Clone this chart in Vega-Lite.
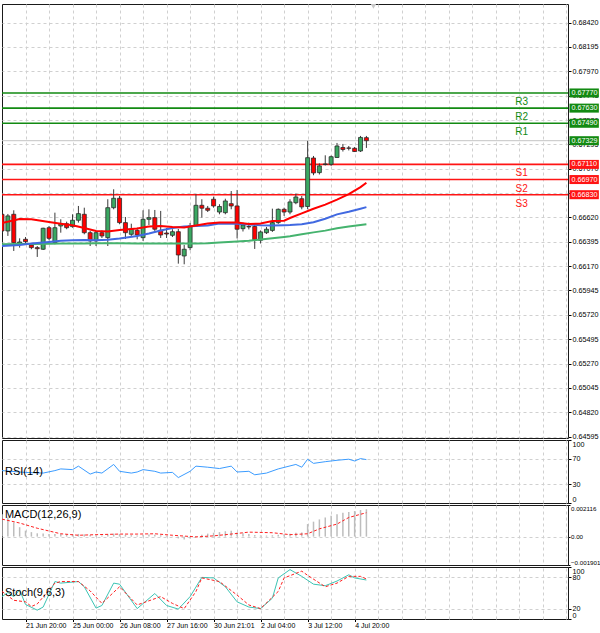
{
  "$schema": "https://vega.github.io/schema/vega-lite/v6.json",
  "padding": {"left": 0, "top": 3, "right": 0, "bottom": 0},
  "background": "white",
  "spacing": 2,
  "bounds": "flush",
  "config": {
    "view": {"stroke": "#1a1a1a", "strokeWidth": 1},
    "axis": {"labelFont": "Liberation Sans", "labelFontSize": 7.2, "labelColor": "#000000", "tickColor": "#000000", "gridColor": "#d0d0d0", "gridDash": [3, 3], "title": null, "domain": false, "tickSize": 3, "labelPadding": 1, "labelOverlap": false},
    "text": {"font": "Liberation Sans"}
  },
  "datasets": {
    "candles": [
      {"i":0,"o":0.66649,"h":0.66670,"l":0.66476,"c":0.66495},
      {"i":1,"o":0.66495,"h":0.66652,"l":0.66449,"c":0.66634},
      {"i":2,"o":0.66649,"h":0.66686,"l":0.66310,"c":0.66387},
      {"i":3,"o":0.66372,"h":0.66427,"l":0.66341,"c":0.66393},
      {"i":4,"o":0.66418,"h":0.66439,"l":0.66384,"c":0.66396},
      {"i":5,"o":0.66366,"h":0.66378,"l":0.66326,"c":0.66341},
      {"i":6,"o":0.66341,"h":0.66356,"l":0.66255,"c":0.66331},
      {"i":7,"o":0.66326,"h":0.66525,"l":0.66319,"c":0.66520},
      {"i":8,"o":0.66525,"h":0.66541,"l":0.66409,"c":0.66427},
      {"i":9,"o":0.66387,"h":0.66664,"l":0.66372,"c":0.66525},
      {"i":10,"o":0.66541,"h":0.66603,"l":0.66479,"c":0.66562},
      {"i":11,"o":0.66562,"h":0.66581,"l":0.66511,"c":0.66525},
      {"i":12,"o":0.66535,"h":0.66649,"l":0.66525,"c":0.66594},
      {"i":13,"o":0.66594,"h":0.66726,"l":0.66572,"c":0.66655},
      {"i":14,"o":0.66649,"h":0.66710,"l":0.66464,"c":0.66479},
      {"i":15,"o":0.66479,"h":0.66495,"l":0.66356,"c":0.66403},
      {"i":16,"o":0.66403,"h":0.66495,"l":0.66356,"c":0.66479},
      {"i":17,"o":0.66479,"h":0.66500,"l":0.66430,"c":0.66449},
      {"i":18,"o":0.66433,"h":0.66788,"l":0.66356,"c":0.66710},
      {"i":19,"o":0.66710,"h":0.66880,"l":0.66695,"c":0.66797},
      {"i":20,"o":0.66797,"h":0.66818,"l":0.66557,"c":0.66572},
      {"i":21,"o":0.66572,"h":0.66624,"l":0.66421,"c":0.66479},
      {"i":22,"o":0.66464,"h":0.66562,"l":0.66449,"c":0.66511},
      {"i":23,"o":0.66501,"h":0.66525,"l":0.66418,"c":0.66458},
      {"i":24,"o":0.66433,"h":0.66686,"l":0.66403,"c":0.66603},
      {"i":25,"o":0.66603,"h":0.66695,"l":0.66550,"c":0.66618},
      {"i":26,"o":0.66618,"h":0.66689,"l":0.66495,"c":0.66511},
      {"i":27,"o":0.66501,"h":0.66680,"l":0.66430,"c":0.66458},
      {"i":28,"o":0.66476,"h":0.66523,"l":0.66430,"c":0.66467},
      {"i":29,"o":0.66455,"h":0.66511,"l":0.66439,"c":0.66488},
      {"i":30,"o":0.66488,"h":0.66513,"l":0.66193,"c":0.66273},
      {"i":31,"o":0.66264,"h":0.66366,"l":0.66187,"c":0.66326},
      {"i":32,"o":0.66341,"h":0.66569,"l":0.66317,"c":0.66541},
      {"i":33,"o":0.66541,"h":0.66834,"l":0.66532,"c":0.66732},
      {"i":34,"o":0.66732,"h":0.66788,"l":0.66618,"c":0.66705},
      {"i":35,"o":0.66705,"h":0.66726,"l":0.66670,"c":0.66686},
      {"i":36,"o":0.66788,"h":0.66812,"l":0.66710,"c":0.66726},
      {"i":37,"o":0.66670,"h":0.66742,"l":0.66649,"c":0.66721},
      {"i":38,"o":0.66664,"h":0.66793,"l":0.66649,"c":0.66772},
      {"i":39,"o":0.66747,"h":0.66864,"l":0.66695,"c":0.66726},
      {"i":40,"o":0.66726,"h":0.66874,"l":0.66426,"c":0.66511},
      {"i":41,"o":0.66516,"h":0.66572,"l":0.66490,"c":0.66550},
      {"i":42,"o":0.66536,"h":0.66572,"l":0.66509,"c":0.66532},
      {"i":43,"o":0.66536,"h":0.66557,"l":0.66329,"c":0.66414},
      {"i":44,"o":0.66409,"h":0.66500,"l":0.66379,"c":0.66486},
      {"i":45,"o":0.66479,"h":0.66532,"l":0.66467,"c":0.66511},
      {"i":46,"o":0.66500,"h":0.66701,"l":0.66486,"c":0.66572},
      {"i":47,"o":0.66572,"h":0.66703,"l":0.66560,"c":0.66695},
      {"i":48,"o":0.66695,"h":0.66710,"l":0.66634,"c":0.66670},
      {"i":49,"o":0.66670,"h":0.66788,"l":0.66649,"c":0.66763},
      {"i":50,"o":0.66756,"h":0.66840,"l":0.66742,"c":0.66809},
      {"i":51,"o":0.66793,"h":0.66818,"l":0.66695,"c":0.66717},
      {"i":52,"o":0.66721,"h":0.67327,"l":0.66695,"c":0.67172},
      {"i":53,"o":0.67169,"h":0.67188,"l":0.67010,"c":0.67031},
      {"i":54,"o":0.67034,"h":0.67119,"l":0.67017,"c":0.67096},
      {"i":55,"o":0.67109,"h":0.67194,"l":0.67100,"c":0.67114},
      {"i":56,"o":0.67111,"h":0.67192,"l":0.67096,"c":0.67181},
      {"i":57,"o":0.67174,"h":0.67308,"l":0.67169,"c":0.67280},
      {"i":58,"o":0.67266,"h":0.67299,"l":0.67229,"c":0.67248},
      {"i":59,"o":0.67262,"h":0.67280,"l":0.67239,"c":0.67259},
      {"i":60,"o":0.67259,"h":0.67271,"l":0.67225,"c":0.67229},
      {"i":61,"o":0.67234,"h":0.67373,"l":0.67225,"c":0.67359},
      {"i":62,"o":0.67357,"h":0.67373,"l":0.67262,"c":0.67329}
    ],
    "ma": [
      {"i":0,"fast":0.66569,"mid":0.66356,"slow":0.66372},
      {"i":3,"fast":0.66606,"mid":0.66366,"slow":0.66374},
      {"i":5,"fast":0.66603,"mid":0.66379,"slow":0.66375},
      {"i":8,"fast":0.66578,"mid":0.66393,"slow":0.66377},
      {"i":10,"fast":0.66562,"mid":0.66404,"slow":0.66378},
      {"i":12,"fast":0.66548,"mid":0.66410,"slow":0.66379},
      {"i":14,"fast":0.66523,"mid":0.66412,"slow":0.66380},
      {"i":16,"fast":0.66495,"mid":0.66409,"slow":0.66381},
      {"i":18,"fast":0.66490,"mid":0.66414,"slow":0.66381},
      {"i":20,"fast":0.66504,"mid":0.66426,"slow":0.66381},
      {"i":23,"fast":0.66518,"mid":0.66449,"slow":0.66380},
      {"i":25,"fast":0.66536,"mid":0.66472,"slow":0.66379},
      {"i":27,"fast":0.66541,"mid":0.66500,"slow":0.66378},
      {"i":29,"fast":0.66532,"mid":0.66523,"slow":0.66378},
      {"i":31,"fast":0.66527,"mid":0.66536,"slow":0.66378},
      {"i":33,"fast":0.66546,"mid":0.66541,"slow":0.66379},
      {"i":35,"fast":0.66564,"mid":0.66546,"slow":0.66382},
      {"i":37,"fast":0.66572,"mid":0.66564,"slow":0.66389},
      {"i":40,"fast":0.66572,"mid":0.66562,"slow":0.66398},
      {"i":42,"fast":0.66560,"mid":0.66555,"slow":0.66405},
      {"i":44,"fast":0.66564,"mid":0.66548,"slow":0.66415},
      {"i":46,"fast":0.66587,"mid":0.66546,"slow":0.66428},
      {"i":48,"fast":0.66590,"mid":0.66548,"slow":0.66440},
      {"i":49,"fast":0.66615,"mid":0.66550,"slow":0.66447},
      {"i":51,"fast":0.66658,"mid":0.66557,"slow":0.66465},
      {"i":53,"fast":0.66700,"mid":0.66575,"slow":0.66482},
      {"i":55,"fast":0.66738,"mid":0.66608,"slow":0.66498},
      {"i":57,"fast":0.66785,"mid":0.66648,"slow":0.66520},
      {"i":59,"fast":0.66835,"mid":0.66672,"slow":0.66536},
      {"i":61,"fast":0.66900,"mid":0.66700,"slow":0.66550},
      {"i":62,"fast":0.66940,"mid":0.66715,"slow":0.66557}
    ],
    "levels": [
      {"name":"R3","kind":"R","v":0.67770},
      {"name":"R2","kind":"R","v":0.67630},
      {"name":"R1","kind":"R","v":0.67490},
      {"name":"S1","kind":"S","v":0.67110},
      {"name":"S2","kind":"S","v":0.66970},
      {"name":"S3","kind":"S","v":0.66830}
    ],
    "tags": [
      {"kind":"R","v":0.67770},
      {"kind":"R","v":0.67630},
      {"kind":"R","v":0.67490},
      {"kind":"P","v":0.67329},
      {"kind":"S","v":0.67110},
      {"kind":"S","v":0.66970},
      {"kind":"S","v":0.66830}
    ],
    "rsi": [
      {"i":0,"v":51.4},{"i":4,"v":48.5},{"i":7,"v":47.5},{"i":9,"v":51.4},{"i":10,"v":54.1},
      {"i":12,"v":53},{"i":13,"v":58.5},{"i":15,"v":45.9},{"i":16,"v":49.2},{"i":17,"v":47.5},
      {"i":19,"v":61.2},{"i":20,"v":50.3},{"i":22,"v":47.5},{"i":23,"v":49.2},{"i":24,"v":53},
      {"i":26,"v":50.3},{"i":27,"v":47.5},{"i":29,"v":48.6},{"i":30,"v":40.4},{"i":32,"v":50.3},
      {"i":33,"v":58.5},{"i":35,"v":56.8},{"i":37,"v":54.7},{"i":39,"v":58.5},{"i":40,"v":49.2},
      {"i":42,"v":50.3},{"i":43,"v":44.8},{"i":45,"v":47.5},{"i":47,"v":54.1},{"i":50,"v":61.2},
      {"i":51,"v":56.8},{"i":52,"v":69.5},{"i":53,"v":62.9},{"i":55,"v":65.6},{"i":57,"v":67.8},
      {"i":59,"v":69.5},{"i":60,"v":66.7},{"i":61,"v":70.5},{"i":62,"v":68.9}
    ],
    "macd": [
      {"i":0,"m":0.00150},{"i":1,"m":0.00128},{"i":2,"m":0.00095},{"i":3,"m":0.00063},{"i":4,"m":0.00040},
      {"i":5,"m":0.00030},{"i":6,"m":0.00022},{"i":7,"m":0.00020},{"i":8,"m":0.00018},{"i":9,"m":0.00017},
      {"i":10,"m":0.00018},{"i":11,"m":0.00017},{"i":12,"m":0.00016},{"i":13,"m":0.00018},{"i":14,"m":0.00015},
      {"i":15,"m":0.00010},{"i":16,"m":0.00009},{"i":17,"m":0.00008},{"i":18,"m":0.00014},{"i":19,"m":0.00020},
      {"i":20,"m":0.00018},{"i":21,"m":0.00012},{"i":22,"m":0.00010},{"i":23,"m":0.00008},{"i":24,"m":0.00012},
      {"i":25,"m":0.00014},{"i":26,"m":0.00012},{"i":27,"m":0.00009},{"i":28,"m":0.00006},{"i":29,"m":0.00002},
      {"i":30,"m":-0.00012},{"i":31,"m":-0.00020},{"i":32,"m":-0.00012},{"i":33,"m":0.00004},{"i":34,"m":0.00012},
      {"i":35,"m":0.00020},{"i":36,"m":0.00026},{"i":37,"m":0.00030},{"i":38,"m":0.00036},{"i":39,"m":0.00040},
      {"i":40,"m":0.00028},{"i":41,"m":0.00022},{"i":42,"m":0.00018},{"i":43,"m":0.00010},{"i":44,"m":0.00008},
      {"i":45,"m":0.00007},{"i":46,"m":0.00009},{"i":47,"m":0.00013},{"i":48,"m":0.00015},{"i":49,"m":0.00019},
      {"i":50,"m":0.00025},{"i":51,"m":0.00028},{"i":52,"m":0.00084},{"i":53,"m":0.00100},{"i":54,"m":0.00115},
      {"i":55,"m":0.00128},{"i":56,"m":0.00140},{"i":57,"m":0.00149},{"i":58,"m":0.00160},{"i":59,"m":0.00165},
      {"i":60,"m":0.00171},{"i":61,"m":0.00178},{"i":62,"m":0.00183}
    ],
    "signal": [
      {"i":0,"s":0.00117},{"i":3,"s":0.00091},{"i":6,"s":0.00056},{"i":10,"s":0.00019},{"i":13,"s":0.00009},
      {"i":16,"s":0.00013},{"i":20,"s":0.00017},{"i":23,"s":0.00017},{"i":26,"s":0.00019},{"i":29,"s":0.00009},
      {"i":33,"s":-0.00002},{"i":36,"s":0.00005},{"i":39,"s":0.00017},{"i":42,"s":0.00030},{"i":46,"s":0.00026},
      {"i":49,"s":0.00013},{"i":52,"s":0.00019},{"i":54,"s":0.00052},{"i":57,"s":0.00084},{"i":59,"s":0.00128},
      {"i":62,"s":0.00160}
    ],
    "stochk": [
      {"i":0,"k":43},{"i":1,"k":51},{"i":2,"k":43},{"i":3,"k":56},{"i":4,"k":28},{"i":6,"k":17},
      {"i":7,"k":23},{"i":9,"k":72},{"i":10,"k":69},{"i":13,"k":72},{"i":14,"k":62},{"i":16,"k":21},
      {"i":17,"k":26},{"i":19,"k":69},{"i":20,"k":67},{"i":23,"k":20},{"i":26,"k":49},{"i":28,"k":26},
      {"i":30,"k":19},{"i":32,"k":43},{"i":34,"k":80},{"i":36,"k":79},{"i":38,"k":62},{"i":40,"k":33},
      {"i":42,"k":23},{"i":44,"k":20},{"i":46,"k":40},{"i":47,"k":79},{"i":49,"k":95},{"i":51,"k":82},
      {"i":53,"k":67},{"i":55,"k":64},{"i":57,"k":73},{"i":59,"k":85},{"i":60,"k":79},{"i":62,"k":75}
    ],
    "stochd": [
      {"i":0,"d":53},{"i":2,"d":36},{"i":4,"d":33},{"i":5,"d":24},{"i":6,"d":29},{"i":9,"d":69},
      {"i":10,"d":72},{"i":13,"d":72},{"i":15,"d":54},{"i":17,"d":30},{"i":20,"d":62},{"i":23,"d":27},
      {"i":27,"d":43},{"i":29,"d":30},{"i":31,"d":20},{"i":33,"d":53},{"i":34,"d":79},{"i":37,"d":72},
      {"i":40,"d":46},{"i":42,"d":27},{"i":44,"d":20},{"i":47,"d":53},{"i":48,"d":79},{"i":51,"d":92},
      {"i":52,"d":84},{"i":55,"d":62},{"i":57,"d":69},{"i":59,"d":82},{"i":61,"d":82},{"i":62,"d":77}
    ],
    "titles": [
      {"panel":"rsi","t":"RSI(14)"},
      {"panel":"macd","t":"MACD(12,26,9)"},
      {"panel":"stoch","t":"Stoch(9,6,3)"}
    ]
  },
  "vconcat": [
    {
      "width": 566,
      "height": 434,
      "layer": [
        {
          "data": {"values": [{"v": 0.67329}]},
          "mark": {"type": "rule", "color": "#c4c4c4", "strokeWidth": 1},
          "encoding": {
            "x": {"datum": 0, "type": "quantitative", "scale": {"domain": [0, 96.3], "nice": false, "zero": false, "padding": 0},
                  "axis": {"values": [0,4,8,12,16,20,24,28,32,36,40,44,48,52,56,60,64,68,72,76,80,84,88,92,96], "tickCount": 200, "labels": false, "ticks": false, "grid": true,
                           "gridOpacity": {"condition": {"test": "datum.value == 0", "value": 0}, "value": 1}}},
            "x2": {"datum": 96.3},
            "y": {"field": "v", "type": "quantitative", "scale": {"domain": [0.64582, 0.68592], "nice": false, "zero": false, "padding": 0},
                  "axis": {"orient": "right", "values": [0.68420,0.68195,0.67970,0.67745,0.67520,0.67295,0.67070,0.66845,0.66620,0.66395,0.66170,0.65945,0.65720,0.65495,0.65270,0.65045,0.64820,0.64595], "tickCount": 200, "format": ".5f", "grid": true, "labelOverlap": false}}
          }
        },
        {
          "data": {"name": "levels"},
          "mark": {"type": "rule", "strokeWidth": 1.6},
          "encoding": {
            "y": {"field": "v", "type": "quantitative"},
            "color": {"field": "kind", "type": "nominal", "scale": {"domain": ["R", "S"], "range": ["#128a12", "#ff1414"]}, "legend": null}
          }
        },
        {
          "data": {"name": "candles"},
          "mark": {"type": "rule", "color": "#3a3a3a", "strokeWidth": 1, "clip": true},
          "encoding": {
            "x": {"field": "i", "type": "quantitative"},
            "y": {"field": "l", "type": "quantitative"},
            "y2": {"field": "h"}
          }
        },
        {
          "data": {"name": "candles"},
          "mark": {"type": "bar", "size": 4, "stroke": "#2b2b2b", "strokeWidth": 0.8, "clip": true},
          "encoding": {
            "x": {"field": "i", "type": "quantitative"},
            "y": {"field": "o", "type": "quantitative"},
            "y2": {"field": "c"},
            "color": {"condition": {"test": "datum.c >= datum.o", "value": "#3aa862"}, "value": "#ff0000"}
          }
        },
        {
          "data": {"name": "ma"},
          "mark": {"type": "line", "color": "#45b36e", "strokeWidth": 2, "clip": true},
          "encoding": {"x": {"field": "i", "type": "quantitative"}, "y": {"field": "slow", "type": "quantitative"}}
        },
        {
          "data": {"name": "ma"},
          "mark": {"type": "line", "color": "#4169e1", "strokeWidth": 2, "clip": true},
          "encoding": {"x": {"field": "i", "type": "quantitative"}, "y": {"field": "mid", "type": "quantitative"}}
        },
        {
          "data": {"name": "ma"},
          "mark": {"type": "line", "color": "#ff0000", "strokeWidth": 2, "clip": true},
          "encoding": {"x": {"field": "i", "type": "quantitative"}, "y": {"field": "fast", "type": "quantitative"}}
        },
        {
          "data": {"name": "levels"},
          "mark": {"type": "text", "align": "center", "baseline": "top", "dy": 4, "fontSize": 10},
          "encoding": {
            "x": {"datum": 88.4},
            "y": {"field": "v", "type": "quantitative"},
            "text": {"field": "name"},
            "color": {"field": "kind", "type": "nominal", "scale": {"domain": ["R", "S"], "range": ["#4a9e4a", "#ff4646"]}, "legend": null}
          }
        },
        {
          "data": {"name": "tags"},
          "mark": {"type": "bar", "size": 9},
          "encoding": {
            "x": {"datum": 96.55},
            "x2": {"datum": 101.55},
            "y": {"field": "v", "type": "quantitative"},
            "color": {"field": "kind", "type": "nominal", "scale": {"domain": ["R", "S", "P"], "range": ["#0a820a", "#ff0000", "#000000"]}, "legend": null}
          }
        },
        {
          "data": {"name": "tags"},
          "mark": {"type": "text", "align": "left", "baseline": "middle", "fontSize": 7.2, "color": "#ffffff"},
          "encoding": {
            "x": {"datum": 96.9},
            "y": {"field": "v", "type": "quantitative"},
            "text": {"field": "v", "type": "quantitative", "format": ".5f"}
          }
        },
        {
          "data": {"values": [{"i": 63.2, "v": 0.68569}]},
          "mark": {"type": "point", "shape": "triangle-down", "size": 30, "filled": true, "color": "#c8c8c8", "opacity": 1},
          "encoding": {"x": {"field": "i", "type": "quantitative"}, "y": {"field": "v", "type": "quantitative"}}
        }
      ]
    },
    {
      "width": 566,
      "height": 63,
      "layer": [
        {
          "data": {"name": "rsi"},
          "mark": {"type": "line", "color": "#3b9cff", "strokeWidth": 1, "clip": true},
          "encoding": {
            "x": {"field": "i", "type": "quantitative", "scale": {"domain": [0, 96.3], "nice": false, "zero": false, "padding": 0},
                  "axis": {"values": [0,4,8,12,16,20,24,28,32,36,40,44,48,52,56,60,64,68,72,76,80,84,88,92,96], "tickCount": 200, "labels": false, "ticks": false, "grid": true,
                           "gridOpacity": {"condition": {"test": "datum.value == 0", "value": 0}, "value": 1}}},
            "y": {"field": "v", "type": "quantitative", "scale": {"domain": [0, 100], "nice": false, "padding": 0},
                  "axis": {"orient": "right", "values": [0, 30, 70, 100], "tickCount": 200, "format": "d", "labelFlush": true, "labelOverlap": false, "grid": true,
                           "gridOpacity": {"condition": {"test": "datum.value == 0 || datum.value == 100", "value": 0}, "value": 1}}}
          }
        },
        {
          "data": {"name": "titles"},
          "transform": [{"filter": "datum.panel == 'rsi'"}],
          "mark": {"type": "text", "align": "left", "baseline": "middle", "fontSize": 11, "color": "#000000"},
          "encoding": {"x": {"datum": 0.5}, "y": {"datum": 50}, "text": {"field": "t"}}
        }
      ]
    },
    {
      "width": 566,
      "height": 60,
      "layer": [
        {
          "data": {"name": "macd"},
          "mark": {"type": "bar", "size": 1.5, "color": "#bdbdbd", "clip": true},
          "encoding": {
            "x": {"field": "i", "type": "quantitative", "scale": {"domain": [0, 96.3], "nice": false, "zero": false, "padding": 0},
                  "axis": {"values": [0,4,8,12,16,20,24,28,32,36,40,44,48,52,56,60,64,68,72,76,80,84,88,92,96], "tickCount": 200, "labels": false, "ticks": false, "grid": true,
                           "gridOpacity": {"condition": {"test": "datum.value == 0", "value": 0}, "value": 1}}},
            "y": {"field": "m", "type": "quantitative", "scale": {"domain": [-0.001901, 0.002116], "nice": false, "zero": false, "padding": 0},
                  "axis": {"orient": "right", "values": [-0.001901, 0, 0.002116], "tickCount": 200, "labelExpr": "datum.value == 0 ? '0.00' : format(datum.value, '.6f')", "labelFlush": true, "labelOverlap": false, "labelFontSize": 6.2, "tickSize": 2, "labelPadding": 0.5, "grid": true,
                           "gridOpacity": {"condition": {"test": "datum.value != 0", "value": 0}, "value": 1}}},
            "y2": {"datum": 0}
          }
        },
        {
          "data": {"name": "signal"},
          "mark": {"type": "line", "color": "#ff2020", "strokeWidth": 1, "strokeDash": [3, 2], "clip": true},
          "encoding": {"x": {"field": "i", "type": "quantitative"}, "y": {"field": "s", "type": "quantitative"}}
        },
        {
          "data": {"name": "titles"},
          "transform": [{"filter": "datum.panel == 'macd'"}],
          "mark": {"type": "text", "align": "left", "baseline": "middle", "fontSize": 11, "color": "#000000"},
          "encoding": {"x": {"datum": 0.5}, "y": {"datum": 0.00145}, "text": {"field": "t"}}
        }
      ]
    },
    {
      "width": 566,
      "height": 52,
      "resolve": {"axis": {"x": "independent"}},
      "layer": [
        {
          "data": {"name": "stochk"},
          "mark": {"type": "line", "color": "#3cc4b4", "strokeWidth": 1, "clip": true},
          "encoding": {
            "x": {"field": "i", "type": "quantitative", "scale": {"domain": [0, 96.3], "nice": false, "zero": false, "padding": 0},
                  "axis": {"orient": "bottom", "values": [4, 12, 20, 28, 36, 44, 52, 60], "tickCount": 200, "grid": false, "labelAlign": "left", "labelFontSize": 7, "labelPadding": 0, "tickSize": 2.5, "labelFlush": false, "labelOverlap": false,
                           "labelExpr": "datum.value == 4 ? '21 Jun 20:00' : datum.value == 12 ? '25 Jun 00:00' : datum.value == 20 ? '26 Jun 08:00' : datum.value == 28 ? '27 Jun 16:00' : datum.value == 36 ? '30 Jun 21:01' : datum.value == 44 ? '2 Jul 04:00' : datum.value == 52 ? '3 Jul 12:00' : '4 Jul 20:00'"}},
            "y": {"field": "k", "type": "quantitative", "scale": {"domain": [0, 100], "nice": false, "padding": 0},
                  "axis": {"orient": "right", "values": [0, 20, 80, 100], "tickCount": 200, "format": "d", "labelFlush": true, "labelOverlap": false, "grid": true,
                           "gridOpacity": {"condition": {"test": "datum.value == 0 || datum.value == 100", "value": 0}, "value": 1}}}
          }
        },
        {
          "data": {"name": "stochd"},
          "mark": {"type": "line", "color": "#ff2020", "strokeWidth": 1, "strokeDash": [3, 2], "clip": true},
          "encoding": {
            "x": {"field": "i", "type": "quantitative",
                  "axis": {"orient": "top", "values": [0,4,8,12,16,20,24,28,32,36,40,44,48,52,56,60,64,68,72,76,80,84,88,92,96], "tickCount": 200, "labels": false, "ticks": false, "grid": true,
                           "gridOpacity": {"condition": {"test": "datum.value == 0", "value": 0}, "value": 1}}},
            "y": {"field": "d", "type": "quantitative"}
          }
        },
        {
          "data": {"name": "titles"},
          "transform": [{"filter": "datum.panel == 'stoch'"}],
          "mark": {"type": "text", "align": "left", "baseline": "middle", "fontSize": 11, "color": "#000000"},
          "encoding": {"x": {"datum": 0.5, "axis": null}, "y": {"datum": 50}, "text": {"field": "t"}}
        }
      ]
    }
  ]
}
